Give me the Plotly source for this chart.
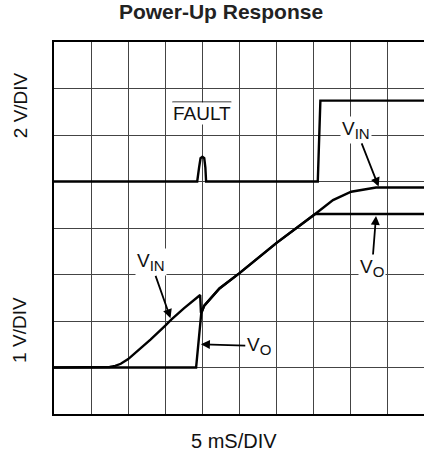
import plotly.graph_objects as go

# Time axis in divisions (5 ms/div), voltages in vertical divisions
fault_t = [0, 3.86, 3.91, 3.95, 4.0, 4.05, 4.08, 4.10, 7.11, 7.18, 10]
fault_v = [5.0, 5.0, 5.3, 5.5, 5.53, 5.5, 5.3, 5.0, 5.0, 6.74, 6.74]

vin_t = [0, 1.36, 1.5, 1.65, 1.8, 2.0, 2.3, 2.6, 3.0, 3.16, 3.5, 3.94, 3.96, 3.97, 4.05, 4.46,
         5.0, 6.0, 7.04, 7.3, 7.52, 8.01, 8.4, 8.68, 10]
vin_v = [1.0, 1.0, 1.01, 1.035, 1.08, 1.18, 1.38, 1.6, 1.9, 2.03, 2.27, 2.56, 2.19, 2.17, 2.33, 2.70,
         3.03, 3.68, 4.30, 4.47, 4.60, 4.78, 4.84, 4.87, 4.87]

vo_t = [0, 3.83, 3.97, 4.05, 4.46, 5.0, 6.0, 7.04, 10]
vo_v = [1.0, 1.0, 2.17, 2.33, 2.70, 3.03, 3.68, 4.30, 4.30]

FONT = "Liberation Sans, Arial, Helvetica, sans-serif"
LW = 2.4
VIN = "V<sub><span style='font-size:15px'>IN</span></sub>"
VO = "V<sub><span style='font-size:15px'>O</span></sub>"

fig = go.Figure()
for t, v, name in [(fault_t, fault_v, "FAULT"), (vin_t, vin_v, "VIN"), (vo_t, vo_v, "VO")]:
    fig.add_trace(go.Scatter(x=t, y=v, mode="lines", name=name,
                             line=dict(color="black", width=LW),
                             showlegend=False, hoverinfo="skip"))

ann = []
# FAULT label (no arrow)
ann.append(dict(x=3.98, y=6.46, xref="x", yref="y", text="FAULT", showarrow=False,
                font=dict(family=FONT, size=19, color="#111"),
                bgcolor="white", borderpad=0, xanchor="center", yanchor="middle"))

def pointer(cx, cy, hx, hy, text):
    ann.append(dict(x=hx, y=hy, ax=cx, ay=cy, xref="x", yref="y", axref="x", ayref="y",
                    text=text, showarrow=True, arrowhead=2, arrowsize=1, arrowwidth=1.8,
                    arrowcolor="black", standoff=0, startstandoff=0,
                    font=dict(family=FONT, size=19, color="#111"),
                    bgcolor="white", borderpad=1, xanchor="center", yanchor="middle"))

pointer(8.15, 6.11, 8.75, 4.89, VIN)
pointer(8.57, 3.14, 8.68, 4.26, VO)
pointer(2.61, 3.26, 3.14, 2.06, VIN)
pointer(5.52, 1.46, 3.96, 1.50, VO)

# axis captions
ann.append(dict(x=-0.092, y=0.83, xref="paper", yref="paper", text="2 V/DIV", textangle=-90,
                showarrow=False, xanchor="center", yanchor="middle",
                font=dict(family=FONT, size=19, color="#111")))
ann.append(dict(x=-0.092, y=0.226, xref="paper", yref="paper", text="1 V/DIV", textangle=-90,
                showarrow=False, xanchor="center", yanchor="middle",
                font=dict(family=FONT, size=19, color="#111")))
ann.append(dict(x=0.486, y=-0.072, xref="paper", yref="paper", text="5 mS/DIV",
                showarrow=False, xanchor="center", yanchor="middle",
                font=dict(family=FONT, size=20, color="#111")))

fig.update_layout(
    width=424, height=454,
    margin=dict(l=54, r=0, t=42, b=40),
    paper_bgcolor="white", plot_bgcolor="white",
    title=dict(text="<b>Power-Up Response</b>", x=221 / 424, y=1 - 12 / 454,
               xanchor="center", yanchor="middle",
               font=dict(family=FONT, size=21, color="#222")),
    annotations=ann,
    shapes=[dict(type="line", xref="x", yref="y", x0=3.19, x1=4.78, y0=6.71, y1=6.71,
                 line=dict(color="black", width=1.2))],
    xaxis=dict(range=[0, 370 / 37.1], dtick=1, tick0=0, showgrid=True, gridcolor="#444",
               gridwidth=1, showticklabels=False, ticks="", zeroline=False,
               showline=True, mirror=True, linecolor="black", linewidth=2, fixedrange=True),
    yaxis=dict(range=[0, 8], dtick=1, tick0=0, showgrid=True, gridcolor="#444",
               gridwidth=1, showticklabels=False, ticks="", zeroline=False,
               showline=True, mirror=False, linecolor="black", linewidth=2, fixedrange=True),
)

fig.write_html("out.html", config={"displayModeBar": False},
               post_script="document.body.style.margin='0px';")
